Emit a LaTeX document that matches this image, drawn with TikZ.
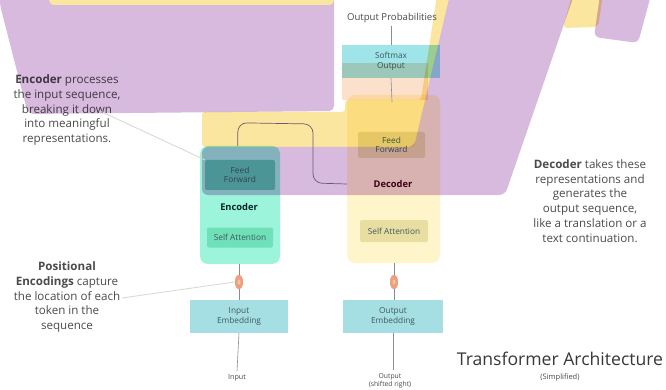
\documentclass[tikz,border=0pt]{standalone}
\usepackage{fontspec}
\setmainfont{Open Sans}
\usetikzlibrary{calc,shapes.geometric}
\definecolor{purp}{RGB}{216,186,223}
\definecolor{yel}{RGB}{251,230,160}
\definecolor{peach}{RGB}{251,224,204}
\definecolor{mint}{RGB}{156,244,218}
\definecolor{mintdk}{RGB}{112,224,184}
\definecolor{cyanbox}{RGB}{166,223,227}
\definecolor{softcyan}{RGB}{158,228,232}
\definecolor{decyel}{RGB}{255,245,202}
\definecolor{khaki}{RGB}{233,222,162}
\definecolor{orng}{RGB}{238,160,124}
\definecolor{wirec}{RGB}{107,90,115}
\definecolor{linec}{RGB}{140,140,140}
\definecolor{leadc}{RGB}{210,218,205}
\definecolor{txt}{RGB}{75,75,75}
\definecolor{boxtxt}{RGB}{60,90,92}
\tikzset{
  basebox/.style={rectangle, inner sep=1pt, align=center, text=boxtxt,
    font=\fontsize{8.3}{9.5}\selectfont},
  blockenc/.style={rectangle, rounded corners=8, fill=mint, minimum width=80pt, minimum height=118pt},
  blockdec/.style={rectangle, rounded corners=8, fill=decyel, minimum width=93pt, minimum height=168pt},
  ffenc/.style={basebox, fill=mintdk!80!teal, minimum width=70pt, minimum height=30pt, rounded corners=2},
  saenc/.style={basebox, fill=mintdk, minimum width=66pt, minimum height=20pt, rounded corners=2},
  ffdec/.style={basebox, fill=khaki, minimum width=67pt, minimum height=26pt, rounded corners=2},
  sadec/.style={basebox, fill=khaki, minimum width=68pt, minimum height=22pt, rounded corners=2},
  embbox/.style={basebox, fill=cyanbox, minimum width=98pt, minimum height=33pt},
  softbox/.style={basebox, fill=softcyan, minimum width=98pt, minimum height=33pt},
  blocklab/.style={font=\fontsize{9.3}{10}\selectfont\bfseries, text=black!75},
  conn/.style={draw=linec, line width=0.6pt},
  posenc/.style={ellipse, fill=orng, minimum width=8pt, minimum height=14pt, inner sep=0pt},
  note/.style={align=center, text=txt, font=\fontsize{11.6}{14.7}\selectfont},
  small/.style={align=center, text=txt, font=\fontsize{6.8}{8}\selectfont},
  leader/.style={draw=leadc, line width=0.8pt},
  wire/.style={draw=wirec, line width=0.7pt, rounded corners=9}
}
\begin{document}
\begin{tikzpicture}[x=1pt,y=-1pt]
\useasboundingbox (0,0) rectangle (666,390);
\fill[white] (0,0) rectangle (666,390);

% base blocks
\node[blockenc] (enc) at (240,205) {};
\node[blockdec] (dec) at (393.5,179) {};
\node[ffenc] (encff) at (240,175) {Feed\\Forward};
\node[blocklab, text=black!70!teal] (enclab) at (239,207) {Encoder};
\node[saenc] (encsa) at (240,237.5) {Self Attention};
\node[ffdec] (decff) at (391.5,145) {Feed\\Forward};
\node[blocklab, text=black!65!purple] (declab) at (393,184) {Decoder};
\node[sadec] (decsa) at (394,231) {Self Attention};
\node[softbox] (soft) at (391,61.5) {Softmax\\Output};
\node[embbox] (inemb) at (239,316.5) {Input\\Embedding};
\node[embbox, minimum width=100pt] (outemb) at (393,316.5) {Output\\Embedding};

% notes (under the translucent shapes where they overlap)
\node[note] (encnote) at (67,110) {\textbf{Encoder} processes\\the input sequence,\\breaking it down\\into meaningful\\representations.};

% translucent overlays
\begin{scope}[blend mode=multiply]
  \fill[purp, rounded corners=5] (0,-5) -- (334,-5) -- (334,111) -- (28,114) -- (0,5) -- cycle;
  \fill[yel, rounded corners=3] (437,-5) -- (450,-5) -- (414,147) -- (202,147) -- (202,112) -- (345,112) -- (345,100) -- (421,100) -- cycle;
  \fill[peach] (342,63) rectangle (428,100);
  \fill[purp, rounded corners=6] (450,-5) -- (574,-5) -- (505,195) -- (202,195) -- (202,147) -- (414,147) -- cycle;
  \fill[yel, rounded corners=4] (572,-5) -- (603,-5) -- (598,27) -- (563,28) -- cycle;
  \fill[purp, rounded corners=5] (600,-5) -- (651,-5) -- (638,43) -- (594,37) -- cycle;
\end{scope}
\fill[yel, rounded corners=5] (49,-10) rectangle (334,5);

% wire from encoder to decoder
\coordinate (wa) at ($(enc.north west)+(38,0)$);
\draw[wire] (wa) -- ++(0,-23) -- (313,124) -- (313,183) -- (declab.west -| dec.west);

% connectors
\node[small, font=\fontsize{9.6}{11}\selectfont] (outprob) at (392,18) {Output Probabilities};
\coordinate (softbelow) at (392,102);
\draw[conn] (outprob.south -| soft.north) -- (soft.north);
\draw[conn] (soft.south) -- (softbelow);
\node[posenc] (pe1) at (239,282) {};
\node[posenc] (pe2) at (394,282) {};
\draw[conn] (enc.south -| pe1) -- (pe1) -- (inemb.north -| pe1);
\draw[conn] (dec.south -| pe2) -- (pe2) -- (outemb.north -| pe2);
\node[posenc] at (239,282) {};
\node[posenc] at (394,282) {};
\fill[orng!60!white] (239,282) ellipse (1.5pt and 2.5pt);
\fill[orng!60!white] (394,282) ellipse (1.5pt and 2.5pt);
\node[small, font=\fontsize{7.2}{8}\selectfont] (inlab) at (237,378) {Input};
\node[small] (outlab) at (390,380.5) {Output\\(shifted right)};
\draw[conn] (inemb.south) -- (inlab.north);
\draw[conn] (outemb.south) -- (outlab.north -| outemb.south);

% notes
\node[note] (posnote) at (67,297) {\textbf{Positional}\\\textbf{Encodings} capture\\the location of each\\token in the\\sequence};
\node[note] (decnote) at (590,201) {\textbf{Decoder} takes these\\representations and\\generates the\\output sequence,\\like a translation or a\\text continuation.};
\coordinate (encleadA) at (100,111);
\draw[leader] (encleadA) -- (encff.north west);
\coordinate (posleadA) at (122,298);
\draw[leader] (posleadA) -- (pe1.west);

% title
\node[text=black!78, font=\fontsize{17.6}{20}\selectfont] (title) at (560,359) {Transformer Architecture};
\node[small, font=\fontsize{7.5}{9}\selectfont] (subtitle) at (560,378) {(Simplified)};
\end{tikzpicture}
\end{document}
